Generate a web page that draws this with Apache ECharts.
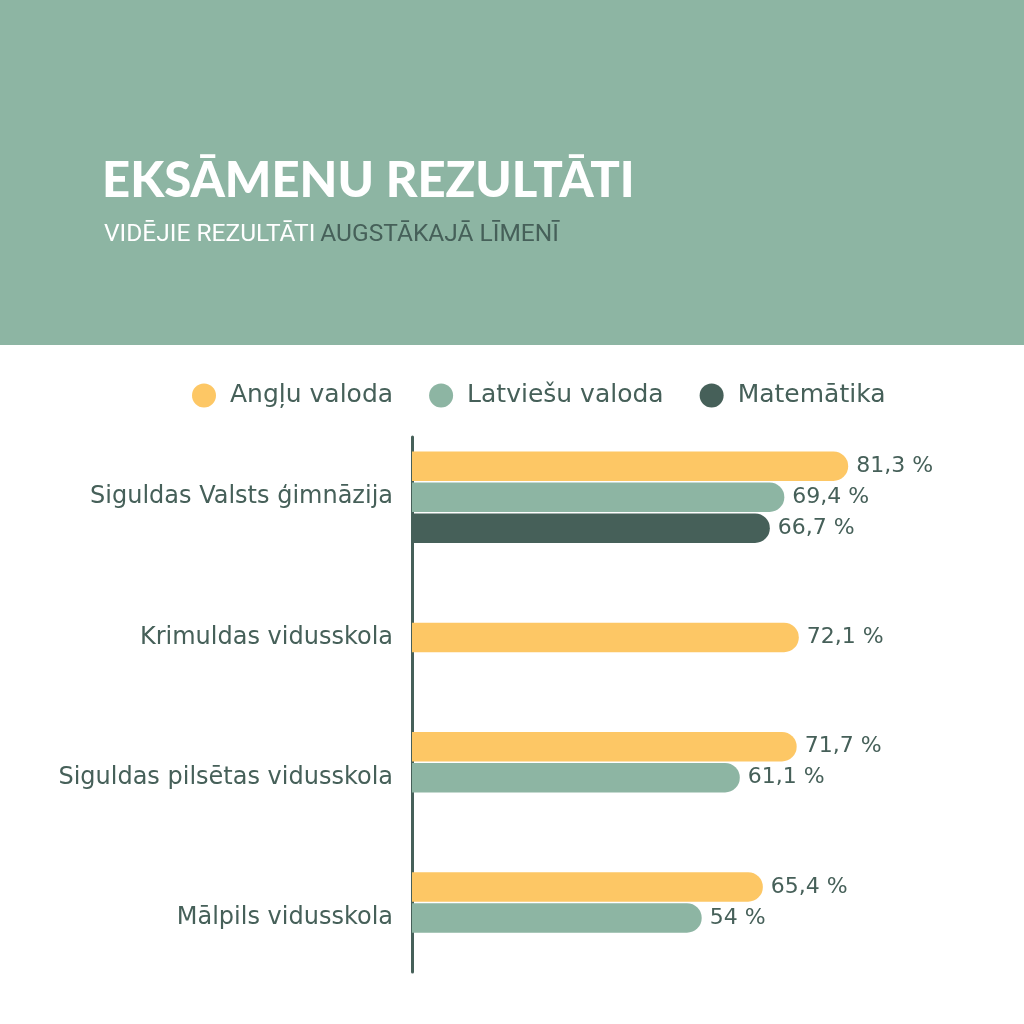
<!DOCTYPE html>
<html>
<head>
<meta charset="utf-8" />
<title>Eksāmenu rezultāti</title>
<script src="https://cdn.jsdelivr.net/npm/echarts@6/dist/echarts.min.js"></script>
<style>
  html, body { margin: 0; padding: 0; background: #fff; }
  #main { width: 1024px; height: 1024px; }
</style>
</head>
<body>
<div id="main"></div>
<script type="text/javascript">
    // dati no attēla
    var categories = ['Siguldas Valsts ģimnāzija', 'Krimuldas vidusskola', 'Siguldas pilsētas vidusskola', 'Mālpils vidusskola'];
    var subjects = ['Angļu valoda', 'Latviešu valoda', 'Matemātika'];
    var anglu = [81.3, 72.1, 71.7, 65.4];
    var latviesu = [69.4, null, 61.1, 54];
    var matematika = [66.7, null, null, null];
    var colors = ['#fdc765', '#8db5a3', '#466059'];

    var ink = '#466059';
    var font = 'DejaVu Sans';
    var all = [anglu, latviesu, matematika];

    // cik stabiņu ir katrā kategorijā
    function countIn(c) {
        var n = 0;
        for (var i = 0; i < all.length; i++) {
            if (all[i][c] != null) n++;
        }
        return n;
    }

    function fmt(v) {
        return String(v).replace('.', ',') + ' %';
    }

    function renderBar(params, api) {
        var v = api.value(0);
        var c = api.value(1);
        var start = api.coord([0, c]);
        var end = api.coord([v, c]);
        var n = countIn(c);
        var off = params.seriesIndex - Math.floor(n / 2);
        var h = 29.5;
        var y = start[1] + off * 31 - h / 2;
        return {
            type: 'group',
            children: [{
                type: 'rect',
                shape: { x: start[0], y: y, width: end[0] - start[0], height: h, r: [0, 15, 15, 0] },
                style: { fill: colors[params.seriesIndex] }
            }, {
                type: 'text',
                style: {
                    text: fmt(v),
                    x: end[0] + 8,
                    y: y + h / 2,
                    align: 'left',
                    verticalAlign: 'middle',
                    fill: ink,
                    fontSize: 22,
                    fontFamily: font
                }
            }]
        };
    }

    function toData(arr) {
        var out = [];
        for (var i = 0; i < arr.length; i++) {
            if (arr[i] != null) out.push([arr[i], i]);
        }
        return out;
    }

    var series = [];
    for (var s = 0; s < subjects.length; s++) {
        series.push({
            name: subjects[s],
            type: 'custom',
            xAxisIndex: 0,
            yAxisIndex: 0,
            itemStyle: { color: colors[s] },
            encode: { x: 0, y: 1 },
            renderItem: renderBar,
            data: toData(all[s])
        });
    }

    var myChart = echarts.init(document.getElementById('main'));
    myChart.setOption({
        animation: false,
        color: colors,
        backgroundColor: '#fff',
        graphic: [{
            type: 'rect',
            z: -10,
            shape: { x: 0, y: 0, width: 1024, height: 345 },
            style: { fill: '#8db5a3' }
        }],
        title: [{
            text: 'EKSĀMENU REZULTĀTI',
            left: 97,
            top: 146,
            textStyle: {
                color: '#fff',
                fontSize: 49,
                lineHeight: 60,
                fontWeight: 900,
                fontFamily: 'Lato',
                letterSpacing: 1.5
            }
        }, {
            text: '{w|VIDĒJIE REZULTĀTI} {d|AUGSTĀKAJĀ LĪMENĪ}',
            left: 99,
            top: 215,
            textStyle: {
                rich: {
                    w: { color: '#fff', fontSize: 24.5, lineHeight: 30, fontWeight: 'normal', fontFamily: 'Roboto' },
                    d: { color: ink, fontSize: 24.5, lineHeight: 30, fontWeight: 'normal', fontFamily: 'Roboto' }
                }
            }
        }],
        legend: {
            data: subjects,
            icon: 'circle',
            left: 192,
            top: 383,
            padding: 0,
            itemWidth: 24,
            itemHeight: 24,
            itemGap: 36,
            textStyle: {
                color: ink,
                fontSize: 25,
                fontFamily: font,
                padding: [0, 0, 0, 9]
            }
        },
        grid: [{
            left: 412, right: 75.5, top: 427, height: 561
        }, {
            left: 412, width: 536, top: 437, height: 535
        }],
        xAxis: [{
            type: 'value', gridIndex: 0, min: 0, max: 100, show: false
        }, {
            type: 'value', gridIndex: 1, min: 0, max: 1, show: false
        }],
        yAxis: [{
            type: 'category',
            gridIndex: 0,
            inverse: true,
            data: categories,
            axisLine: { show: false },
            axisTick: { show: false },
            axisLabel: { color: ink, fontSize: 24, fontFamily: font, margin: 19 }
        }, {
            type: 'value',
            gridIndex: 1,
            min: 0,
            max: 1,
            axisLine: { show: true, onZero: false, lineStyle: { color: ink, width: 3 } },
            axisTick: { show: false },
            axisLabel: { show: false },
            splitLine: { show: false }
        }],
        series: series
    });
</script>
</body>
</html>
